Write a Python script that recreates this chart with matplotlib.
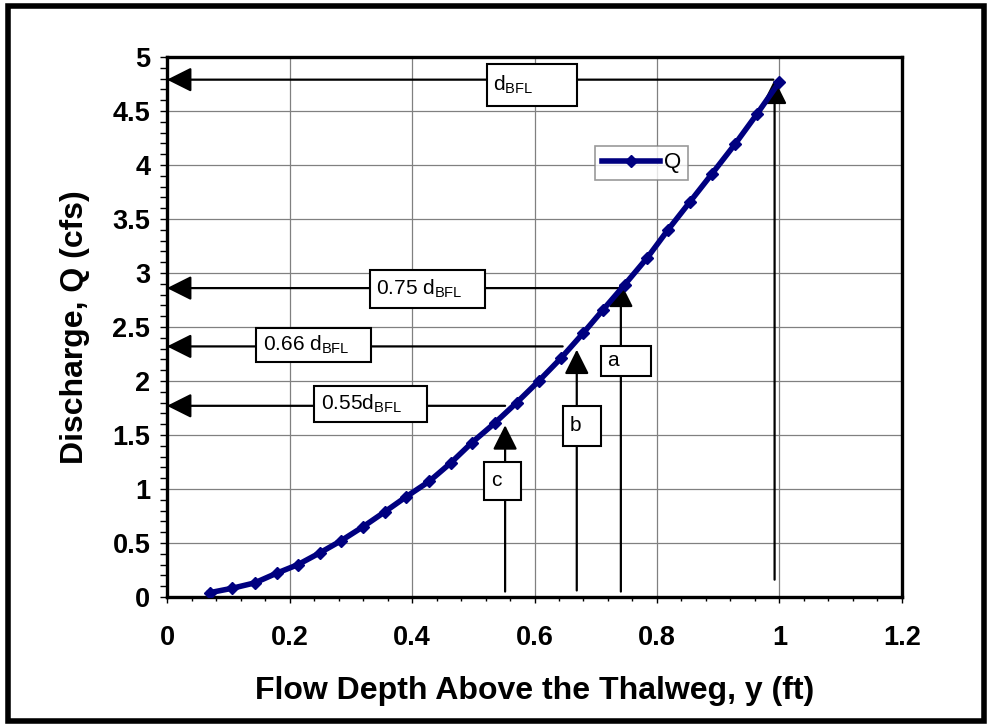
import matplotlib
matplotlib.use("Agg")
import matplotlib.pyplot as plt
from matplotlib.patches import Rectangle
from matplotlib.ticker import MultipleLocator

plt.rcParams['font.family'] = ['Liberation Sans', 'DejaVu Sans']
plt.rcParams['mathtext.fontset'] = 'custom'
plt.rcParams['mathtext.rm'] = 'Liberation Sans'
plt.rcParams['mathtext.it'] = 'Liberation Sans:italic'

# rating curve
depth = [0.070, 0.106, 0.143, 0.179, 0.214, 0.250, 0.284, 0.320, 0.356, 0.391,
         0.428, 0.463, 0.498, 0.535, 0.571, 0.607, 0.643, 0.679, 0.712, 0.747,
         0.784, 0.818, 0.854, 0.890, 0.927, 0.963, 1.000]
discharge = [0.04, 0.08, 0.13, 0.22, 0.30, 0.41, 0.52, 0.65, 0.79, 0.93,
             1.07, 1.24, 1.43, 1.61, 1.80, 2.00, 2.21, 2.44, 2.66, 2.89,
             3.14, 3.40, 3.66, 3.92, 4.19, 4.47, 4.77]

# horizontal arrows: label, Q level, x where the line starts
h_labels = ['d$_{\\mathrm{BFL}}$', '0.75 d$_{\\mathrm{BFL}}$', '0.66 d$_{\\mathrm{BFL}}$', '0.55d$_{\\mathrm{BFL}}$']
h_q = [4.79, 2.86, 2.32, 1.77]
h_x = [0.99, 0.740, 0.646, 0.552]
h_box = [(0.522, 0.669, 4.546, 4.935), (0.331, 0.519, 2.679, 3.028),
         (0.145, 0.333, 2.179, 2.494), (0.240, 0.424, 1.620, 1.954)]

# vertical arrows: label, x, bottom Q, tip Q
v_labels = ['', 'a', 'b', 'c']
v_x = [0.992, 0.741, 0.669, 0.552]
v_bottom = [0.16, 0.05, 0.06, 0.05]
v_tip = [4.79, 2.91, 2.29, 1.59]
v_box = [None, (0.708, 0.790, 2.046, 2.327), (0.646, 0.708, 1.398, 1.769),
         (0.518, 0.578, 0.898, 1.253)]

fig = plt.figure(figsize=(9.9, 7.25), dpi=100)
ax = fig.add_axes([0.1687, 0.1766, 0.7424, 0.7448])

fig.patches.append(Rectangle((0.0085, 0.005), 0.9855, 0.9865, transform=fig.transFigure,
                             fill=False, edgecolor='black', linewidth=4))

ax.plot(depth, discharge, color='#000080', linewidth=4, marker='D', markersize=6,
        label='Q', zorder=5)

arrow = dict(arrowstyle='-|>,head_length=1.0,head_width=0.5', mutation_scale=15,
             color='black', linewidth=1.6, shrinkA=0, shrinkB=0)

for lab, q, x0, b in zip(h_labels, h_q, h_x, h_box):
    ax.annotate('', xy=(0, q), xytext=(x0, q), arrowprops=arrow, zorder=3)
    ax.add_patch(Rectangle((b[0], b[2]), b[1] - b[0], b[3] - b[2], facecolor='white',
                           edgecolor='black', linewidth=1.5, zorder=6))
    ax.text(b[0] + 0.011, (b[2] + b[3]) / 2, lab, fontsize=15, ha='left', va='center', zorder=7)

for lab, x, y0, y1, b in zip(v_labels, v_x, v_bottom, v_tip, v_box):
    ax.annotate('', xy=(x, y1), xytext=(x, y0), arrowprops=arrow, zorder=4)
    if b is not None:
        ax.add_patch(Rectangle((b[0], b[2]), b[1] - b[0], b[3] - b[2], facecolor='white',
                               edgecolor='black', linewidth=1.5, zorder=6))
        ax.text(b[0] + 0.011, (b[2] + b[3]) / 2, lab, fontsize=15, ha='left', va='center', zorder=7)

ax.set_xlim(0, 1.2)
ax.set_ylim(0, 5)
ax.xaxis.set_major_locator(MultipleLocator(0.2))
ax.xaxis.set_minor_locator(MultipleLocator(0.04))
ax.yaxis.set_major_locator(MultipleLocator(0.5))
ax.yaxis.set_minor_locator(MultipleLocator(0.1))
ax.set_xticks([0, 0.2, 0.4, 0.6, 0.8, 1.0, 1.2], ['0', '0.2', '0.4', '0.6', '0.8', '1', '1.2'])
ax.set_yticks([0, 0.5, 1, 1.5, 2, 2.5, 3, 3.5, 4, 4.5, 5],
              ['0', '0.5', '1', '1.5', '2', '2.5', '3', '3.5', '4', '4.5', '5'])
ax.grid(True, which='major', color='#808080', linewidth=0.9, zorder=0)
ax.set_axisbelow(True)

for s in ax.spines.values():
    s.set_linewidth(2.4)
ax.tick_params(axis='both', which='both', direction='out', width=1, color='black')
ax.tick_params(axis='x', which='major', length=4, pad=16)
ax.tick_params(axis='x', which='minor', length=3)
ax.tick_params(axis='y', which='both', length=5, pad=7)
for t in ax.get_xticklabels() + ax.get_yticklabels():
    t.set_fontsize(19.5)
    t.set_fontweight('bold')

ax.set_xlabel('Flow Depth Above the Thalweg, y (ft)', fontsize=23, fontweight='bold', labelpad=18)
ax.set_ylabel('Discharge, Q (cfs)', fontsize=23, fontweight='bold', labelpad=16)

leg = ax.legend(loc='center', bbox_to_anchor=(0.646, 0.804), fontsize=16, frameon=True,
                fancybox=False, edgecolor='#808080', handlelength=2.6, borderpad=0.3,
                handletextpad=0.2, borderaxespad=0)
leg.get_frame().set_linewidth(1.2)
leg.set_zorder(8)

fig.savefig('out.png', dpi=100)
